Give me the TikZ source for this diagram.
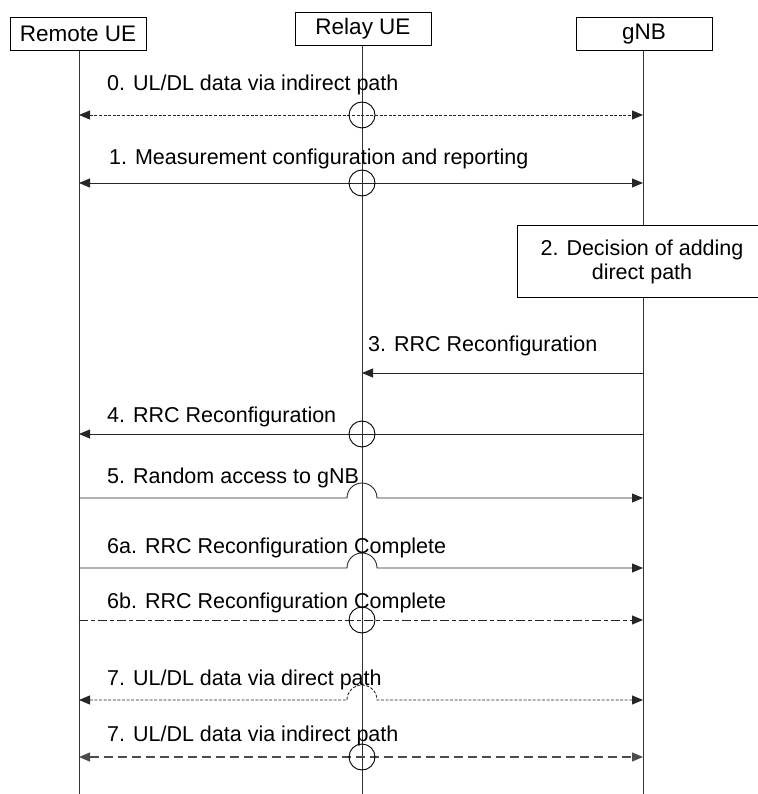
\documentclass[tikz,border=0pt]{standalone}
\usepackage{fontspec}
\setmainfont{Liberation Sans}
\usetikzlibrary{arrows.meta}
\begin{document}
\begin{tikzpicture}[x=1pt,y=-1pt,
  every node/.style={font=\fontsize{21.5}{24.5}\selectfont, inner sep=0pt},
  hdr/.style={draw, line width=0.8pt, minimum width=136pt, minimum height=33pt, font=\fontsize{22.5}{25}\selectfont},
  lifeline/.style={line width=0.9pt, draw=black!80},
  msg/.style={line width=0.9pt, draw=black!85},
  tip/.style={-{Triangle[length=11pt,width=9pt]}},
  btip/.style={{Triangle[length=11pt,width=9pt]}-{Triangle[length=11pt,width=9pt]}},
  lbl/.style={anchor=base west},
  xing/.style={line width=0.9pt, draw=black},
  fine/.style={dash pattern=on 3pt off 1.6pt},
  dashdot/.style={dash pattern=on 9pt off 3pt on 4pt off 3pt},
  longdash/.style={dash pattern=on 9pt off 5pt, line width=1.3pt, draw=black!70}
]
\useasboundingbox (0,0) rectangle (757,794);
% headers
\node[hdr] (rue) at (78,34) {Remote UE};
\node[hdr] (relay) at (363,29) {Relay UE};
\node[hdr] (gnb) at (644,34) {gNB};
\coordinate (rb) at (79,794);
\coordinate (lb) at (362,794);
\coordinate (gb) at (643,794);
\draw[lifeline] (rue.south -| rb) -- (rb);
\draw[lifeline] (relay.south -| lb) -- (lb);
\draw[lifeline] (gnb.south -| gb) -- (gb);
% row coordinates
\coordinate (m0) at (0,115);
\coordinate (m1) at (0,183);
\coordinate (m3) at (0,373);
\coordinate (m4) at (0,434);
\coordinate (m5) at (0,498);
\coordinate (m6a) at (0,568);
\coordinate (m6b) at (0,620);
\coordinate (m7a) at (0,700);
\coordinate (m7b) at (0,757);
% 0
\node[lbl] (l0) at (107,91) {0. UL/DL data via indirect path};
\draw[msg,fine,btip] (rb|-m0) -- (gb|-m0);
\draw[xing] (lb|-m0) circle[radius=13pt];
% 1
\node[lbl] (l1) at (109,165) {1. Measurement configuration and reporting};
\draw[msg,btip] (rb|-m1) -- (gb|-m1);
\draw[xing] (lb|-m1) circle[radius=13pt];
% 2
\node[draw, line width=0.8pt, fill=white, minimum width=241pt, minimum height=72pt] (dec) at (638,261) {};
\node[align=center] (dect) at (642,262) {2. Decision of adding\\direct path};
% 3
\node[lbl] (l3) at (368,351) {3. RRC Reconfiguration};
\draw[msg,tip] (gb|-m3) -- (lb|-m3);
% 4
\node[lbl] (l4) at (107,422) {4. RRC Reconfiguration};
\draw[msg,tip] (gb|-m4) -- (rb|-m4);
\draw[xing] (lb|-m4) circle[radius=13pt];
% 5
\node[lbl] (l5) at (107,483) {5. Random access to gNB};
\draw[msg,tip] (rb|-m5) -- ([xshift=-15pt]lb|-m5) arc[start angle=180,end angle=0,radius=15pt] -- (gb|-m5);
% 6a
\node[lbl] (l6a) at (107,553) {6a. RRC Reconfiguration Complete};
\draw[msg,tip] (rb|-m6a) -- ([xshift=-15pt]lb|-m6a) arc[start angle=180,end angle=0,radius=15pt] -- (gb|-m6a);
% 6b
\node[lbl] (l6b) at (107,608) {6b. RRC Reconfiguration Complete};
\draw[msg,dashdot,tip] (rb|-m6b) -- (gb|-m6b);
\draw[xing] (lb|-m6b) circle[radius=13pt];
% 7 direct
\node[lbl] (l7a) at (107,685) {7. UL/DL data via direct path};
\draw[msg,fine,btip] (rb|-m7a) -- ([xshift=-15pt]lb|-m7a) arc[start angle=180,end angle=0,radius=15pt] -- (gb|-m7a);
% 7 indirect
\node[lbl] (l7b) at (107,741) {7. UL/DL data via indirect path};
\draw[msg,longdash,btip] (rb|-m7b) -- (gb|-m7b);
\draw[xing] (lb|-m7b) circle[radius=13pt];
\end{tikzpicture}
\end{document}
